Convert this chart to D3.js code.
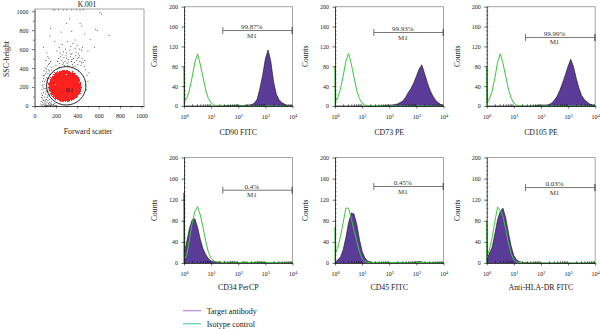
<!DOCTYPE html>
<html>
<head>
<meta charset="utf-8">
<script src="https://cdn.jsdelivr.net/npm/d3@7"></script>
<style>
  body { margin: 0; background: #fff; }
  svg { display: block; font-family: "Liberation Serif", "DejaVu Serif", serif; }
</style>
</head>
<body>
<svg id="fig" width="600" height="329"></svg>
<script>
// log10 fluorescence channel positions shared by all histograms
const channels = [0, 0.03, 0.1, 0.2, 0.3, 0.4, 0.5, 0.6, 0.7, 0.8, 0.9, 1.0, 1.1, 1.2, 1.3, 1.4,
  1.5, 1.6, 1.7, 1.8, 1.9, 2.0, 2.1, 2.2, 2.3, 2.4, 2.5, 2.6, 2.7, 2.8, 2.9, 3.0, 3.1, 3.2, 3.3,
  3.4, 3.5, 3.6, 3.7, 3.8, 3.9, 4.0];

// counts per channel, target antibody (filled) and isotype control (line)
const cd90Target = [0,0, 0,0,0,0,0,0,0,0,0,0,0,0,0,0, 1,1,1,1,1,2,1,1,2,2,3,6,14,36,62,95,113,90,50,24,13,7,4,1,1,0];
const cd90Iso    = [79,10,15,32,58,88,105,84,58,32,15,6,2,1, 0,0,0,0,0,0,0,0,0,0,0,0,0,0,0,0,0,0,0,0,0,0,0,0,0,0,0,0];
const cd73Target = [0,0,0,0,0,0,0,0,0,0,0,0,0,0,0,0,0,0,0, 1,1,2,2,3,4,7,10,17,27,35,46,60,74,83,66,48,32,21,12,7,3,1];
const cd73Iso    = [80,10,16,34,60,90,106,85,58,32,15,6,2,1, 0,0,0,0,0,0,0,0,0,0,0,0,0,0,0,0,0,0,0,0,0,0,0,0,0,0,0,0];
const cd105Target = [0,0,0,0,0,0,0,0,0,0,0,0,0,0,0,0,0,0,0, 1,1,2,2,2,3,6,12,20,32,47,63,80,94,79,56,36,21,13,8,4,2,1];
const cd105Iso    = [80,8,14,30,56,88,105,86,60,34,16,6,2,1, 0,0,0,0,0,0,0,0,0,0,0,0,0,0,0,0,0,0,0,0,0,0,0,0,0,0,0,0];
const cd34Target = [133,22,40,65,82,84,68,45,27,16,8,4,3,2,2, 1,2,1,1,2,1,1,1,2,1,1,1,1,2,1,1,1,1,1,1,1,1,1,1,1,1,0];
const cd34Iso    = [82,8,14,44,75,98,107,91,68,42,20,9,4,2, 2,1,1,1,2,1,1,1,1,2,1,1,1,1,1,2,1,1,1,1,1,1,1,1,1,1,1,1];
const cd45Target = [0,2,6,11,25,48,76,95,93,74,45,22,10,4,2, 1,1,1,1,1,1,1,1,1,1,1,1,1,1,1,1,2,3,2,1,1,1,1,1,1,1,0];
const cd45Iso    = [68,20,28,50,76,104,104,84,62,42,22,8,3,1, 1,1,1,1,1,1,1,1,1,1,1,1,1,1,1,1,1,1,1,1,1,1,1,1,1,1,1,1];
const hlaTarget  = [0,10,18,30,55,82,98,104,86,58,32,14,6,3,1, 1,1,0,0,1,0,0,0,0,0,0,0,0,0,0,0,0,0,0,0,0,0,0,0,0,0,0];
const hlaIso     = [79,14,25,48,78,106,100,88,64,38,18,6,2,1, 1,0,0,0,0,0,0,0,0,0,0,0,0,0,0,0,0,0,0,0,0,0,0,0,0,0,0,0];

const panelTitles = ["CD90 FITC", "CD73 PE", "CD105 PE", "CD34 PerCP", "CD45 FITC", "Anti-HLA-DR FITC"];
const targetCounts = [cd90Target, cd73Target, cd105Target, cd34Target, cd45Target, hlaTarget];
const isotypeCounts = [cd90Iso, cd73Iso, cd105Iso, cd34Iso, cd45Iso, hlaIso];
const gatePercent = ["99.87%", "99.93%", "99.99%", "0.4%", "0.45%", "0.03%"];
const gateLevel = [152, 148, 138, 138, 145, 143];
const gateRange = [27, 9800];
const countTicks = [0, 40, 80, 120, 160, 200];
const decadeTicks = [1, 10, 100, 1000, 10000];

// FSC / SSC dot plot: gate R1 [cx, cy, rx, ry] and the gated population extent
const gateR1 = [297, 213, 184, 203];
const r1Population = [285, 210, 182, 200];
const scatterTicks = [0, 200, 400, 600, 800, 1000];
const ungatedEvents = [
  [176,1015],[192,1012],[223,1016],[269,1013],[301,1016],[348,1014],[395,1015],[426,1012],[457,1016],
  [609,985],[626,971],[572,810],[587,796],[697,743],[426,873],[442,845],[145,740],[83,620],[348,785],
  [301,873],[379,697],[470,760],[520,700],[250,780],[330,920],[190,680],[560,620],[500,580],[150,820],
  [230,620],[260,650],[290,600],[310,680],[340,630],[360,660],[380,610],[400,640],[420,600],[270,570],
  [300,560],[330,590],[350,555],[390,570],[410,550],[440,590],[450,620],[210,580],[240,560],
  [200,430],[215,470],[225,500],[235,450],[245,520],[255,480],[265,440],[275,510],[285,470],[295,530],
  [305,450],[315,490],[325,420],[335,520],[345,470],[355,440],[365,500],[375,460],[385,530],[395,480],
  [405,440],[415,510],[425,470],[435,430],[445,500],[455,460],[465,420],[260,540],[300,505],[340,545],
  [380,420],[420,530],[230,410],[280,425],[320,465],[360,415],[400,505],[440,455],[470,480],[350,490],
  [310,430],[270,455],
  [480,380],[490,320],[500,260],[475,220],[510,350],[485,170],
  [60,20],[70,5],[75,40],[80,15],[85,60],[90,30],[95,10],[100,45],[105,20],[110,70],[115,35],[120,5],
  [125,55],[130,25],[135,12],[140,40],[145,8],[150,30],[155,18],[160,50],[65,90],[75,110],[85,140],
  [95,95],[105,125],[115,160],[125,105],[135,150],[145,120],[70,170],[80,200],[90,230],[100,185],
  [110,215],[120,250],[130,200],[140,230],[150,180],[75,260],[85,290],[95,320],[105,275],[115,300],
  [125,340],[135,290],[145,330],[90,370],[100,400],[110,360],[120,420],[130,380],[140,450],[105,480],
  [125,520],[115,560],[135,500],[150,470],[155,410],[160,380],[88,180],[98,60],[108,150],[118,90],
  [128,180],[138,70],[148,260],[158,120],[68,130],[78,75],[82,320],[92,260],[102,340],[112,390],
  [122,290],[132,440],[142,370],[152,300],[62,50],[72,220],
  [100,3],[112,8],[124,2],[136,6],[148,3],[160,9],[172,4],[184,7],[196,2],[208,5],[165,20],[178,15],[190,25]
];

const legendLabels = ["Target antibody", "Isotype control"];
const legendColors = ["#b18be0", "#5fd3a0"];

const svg = d3.select("#fig");
const frameGray = "#8e8e8e";
const purple = "#5b3b98";
const green = "#3ec43e";

function styleAxis(g, size) {
  g.attr("font-family", null).attr("font-size", size);
  g.selectAll("line").attr("stroke", "#111").attr("stroke-width", 0.6);
  g.select(".domain").attr("stroke", "#111").attr("stroke-width", 0.8);
  g.selectAll("text").attr("fill", "#222");
}

// ---------- dot plot ----------
(function drawScatter() {
  const left = 34.5, right = 144, top = 9, bottom = 106;
  const x = d3.scaleLinear().domain([0, 1024]).range([left, right]);
  const y = d3.scaleLinear().domain([0, 1024]).range([bottom, top]);
  const g = svg.append("g");

  const defs = svg.append("defs");
  const grad = defs.append("radialGradient").attr("id", "r1Fill");
  grad.append("stop").attr("offset", "0%").attr("stop-color", "#ff2020").attr("stop-opacity", 1);
  grad.append("stop").attr("offset", "75%").attr("stop-color", "#ff2020").attr("stop-opacity", 1);
  grad.append("stop").attr("offset", "100%").attr("stop-color", "#ff2020").attr("stop-opacity", 0.15);

  // grainy edge for the dense red event cloud
  const f = defs.append("filter").attr("id", "speckle")
    .attr("x", "-20%").attr("y", "-20%").attr("width", "140%").attr("height", "140%")
    .attr("color-interpolation-filters", "sRGB");
  f.append("feTurbulence").attr("type", "fractalNoise").attr("baseFrequency", 1.1)
    .attr("numOctaves", 2).attr("seed", 4).attr("result", "noise");
  f.append("feColorMatrix").attr("in", "noise").attr("type", "matrix")
    .attr("values", "0 0 0 0 0  0 0 0 0 0  0 0 0 0 0  1 0 0 0 0").attr("result", "na");
  f.append("feComposite").attr("in", "SourceAlpha").attr("in2", "na").attr("operator", "arithmetic")
    .attr("k1", 0).attr("k2", 1).attr("k3", 0.9).attr("k4", -0.65).attr("result", "sum");
  f.append("feComponentTransfer").attr("in", "sum").attr("result", "mask")
    .append("feFuncA").attr("type", "discrete").attr("tableValues", "0 1");
  f.append("feFlood").attr("flood-color", "#ff2020").attr("result", "red");
  f.append("feComposite").attr("in", "red").attr("in2", "mask").attr("operator", "in");

  // frame
  g.append("path")
    .attr("d", `M${left},${top}H${right}V${bottom}`)
    .attr("fill", "none").attr("stroke", frameGray).attr("stroke-width", 0.8);

  g.append("g").selectAll("rect").data(ungatedEvents).join("rect")
    .attr("x", d => x(d[0]) - 0.45).attr("y", d => y(d[1]) - 0.45)
    .attr("width", 0.9).attr("height", 0.9).attr("fill", "#333");

  const [pcx, pcy, prx, pry] = r1Population;
  g.append("ellipse")
    .attr("cx", x(pcx)).attr("cy", y(pcy))
    .attr("rx", x(prx) - x(0)).attr("ry", y(0) - y(pry))
    .attr("fill", "url(#r1Fill)").attr("filter", "url(#speckle)");

  const [gcx, gcy, grx, gry] = gateR1;
  g.append("ellipse")
    .attr("cx", x(gcx)).attr("cy", y(gcy))
    .attr("rx", x(grx) - x(0)).attr("ry", y(0) - y(gry))
    .attr("fill", "none").attr("stroke", "#111").attr("stroke-width", 0.9);
  g.append("text").attr("x", x(327)).attr("y", y(150))
    .attr("text-anchor", "middle").attr("font-size", 7).attr("fill", "#222").text("R1");

  g.append("g").attr("transform", `translate(0,${bottom})`)
    .call(d3.axisBottom(x).tickValues(scatterTicks).tickFormat(d3.format("d"))
      .tickSize(2.5).tickSizeOuter(0).tickPadding(5))
    .call(a => styleAxis(a, 6));
  g.append("g").attr("transform", `translate(0,${bottom})`)
    .call(d3.axisBottom(x).tickValues(d3.range(100, 1001, 200)).tickSize(1.5).tickFormat(""))
    .call(a => a.select(".domain").remove())
    .call(a => styleAxis(a, 6));
  g.append("g").attr("transform", `translate(${left},0)`)
    .call(d3.axisLeft(y).tickValues(scatterTicks).tickFormat(d3.format("d"))
      .tickSize(2.5).tickSizeOuter(0).tickPadding(3.5))
    .call(a => styleAxis(a, 6));
  g.append("g").attr("transform", `translate(${left},0)`)
    .call(d3.axisLeft(y).tickValues(d3.range(100, 1001, 200)).tickSize(1.5).tickFormat(""))
    .call(a => a.select(".domain").remove())
    .call(a => styleAxis(a, 6));

  g.append("text").attr("x", 87).attr("y", 7).attr("text-anchor", "middle")
    .attr("font-size", 7.5).attr("fill", "#222").text("K.001");
  g.append("text").attr("x", 88).attr("y", 134).attr("text-anchor", "middle")
    .attr("font-size", 7.8).attr("fill", "#222").text("Forward scatter");
  g.append("text").attr("transform", "translate(8.5,59) rotate(-90)").attr("text-anchor", "middle")
    .attr("font-size", 7.8).attr("fill", "#222").text("SSC-height");
})();

// ---------- histograms ----------
const colLeft = [184, 335, 486.7];
const panelWidth = 108.5;
const rowTop = [6.7, 157.5];
const rowBottom = [106, 263];
const rowTitleDy = [29, 26.5];

function drawHistogram(i) {
  const col = i % 3, row = Math.floor(i / 3);
  const left = colLeft[col], right = left + panelWidth;
  const top = rowTop[row], bottom = rowBottom[row];
  const x = d3.scaleLog().domain([1, 1e4]).range([left, right]);
  const y = d3.scaleLinear().domain([0, 200]).range([bottom, top]);
  const g = svg.append("g");

  const pts = c => [[1, 0]].concat(channels.map((d, k) => [Math.pow(10, d), c[k]]));
  const area = d3.area().x(d => x(d[0])).y0(bottom).y1(d => y(d[1]));
  const line = d3.line().x(d => x(d[0])).y(d => y(d[1]));

  g.append("path")
    .attr("d", `M${left},${top}H${right}V${bottom}`)
    .attr("fill", "none").attr("stroke", frameGray).attr("stroke-width", 0.8);

  g.append("path").attr("d", area(pts(targetCounts[i]))).attr("fill", purple);
  g.append("path").attr("d", line(pts(targetCounts[i])))
    .attr("fill", "none").attr("stroke", "#111").attr("stroke-width", 0.6);
  g.append("path").attr("d", line(pts(isotypeCounts[i])))
    .attr("fill", "none").attr("stroke", green).attr("stroke-width", 1);

  // M1 marker
  const my = y(gateLevel[i]);
  const x0 = x(gateRange[0]), x1 = x(gateRange[1]);
  const m = g.append("g").attr("stroke", "#555").attr("stroke-width", 0.8);
  m.append("line").attr("x1", x0).attr("x2", x1).attr("y1", my).attr("y2", my);
  m.append("line").attr("x1", x0).attr("x2", x0).attr("y1", my - 3.5).attr("y2", my + 3.5);
  m.append("line").attr("x1", x1).attr("x2", x1).attr("y1", my - 3.5).attr("y2", my + 3.5)
    .attr("stroke-width", 1.3);
  const mx = x(Math.pow(10, 2.5));
  g.append("text").attr("x", mx).attr("y", my - 1.3).attr("text-anchor", "middle")
    .attr("font-size", 7).attr("fill", "#333").text(gatePercent[i]);
  g.append("text").attr("x", mx).attr("y", my + 7).attr("text-anchor", "middle")
    .attr("font-size", 7).attr("fill", "#333").text("M1");

  // axes
  g.append("g").attr("transform", `translate(${left},0)`)
    .call(d3.axisLeft(y).tickValues(countTicks).tickSize(2.5).tickSizeOuter(0).tickPadding(3.5))
    .call(a => styleAxis(a, 6));
  g.append("g").attr("transform", `translate(${left},0)`)
    .call(d3.axisLeft(y).tickValues(d3.range(0, 201, 8)).tickSize(-1.5).tickFormat(""))
    .call(a => a.select(".domain").remove())
    .call(a => styleAxis(a, 6));

  g.append("g").attr("transform", `translate(0,${bottom})`)
    .call(d3.axisBottom(x).tickValues(decadeTicks).tickSize(2.5).tickSizeOuter(0).tickPadding(6.5))
    .call(a => styleAxis(a, 6))
    .call(a => a.selectAll(".tick text").each(function (d) {
      const t = d3.select(this).text(null);
      t.append("tspan").text("10");
      t.append("tspan").attr("dy", -2.6).attr("font-size", 4.5).text(Math.round(Math.log10(d)));
    }));
  g.append("g").attr("transform", `translate(0,${bottom})`)
    .call(d3.axisBottom(x).tickValues(x.ticks().filter(v => !decadeTicks.includes(v))).tickSize(-1.8).tickFormat(""))
    .call(a => a.select(".domain").remove())
    .call(a => styleAxis(a, 6));

  g.append("text").attr("transform", `translate(${left - 27},${(top + bottom) / 2}) rotate(-90)`)
    .attr("text-anchor", "middle").attr("font-size", 7.6).attr("fill", "#222").text("Counts");
  g.append("text").attr("x", (left + right) / 2).attr("y", bottom + rowTitleDy[row])
    .attr("text-anchor", "middle").attr("font-size", 7.8).attr("fill", "#222").text(panelTitles[i]);
}

panelTitles.forEach((_, i) => drawHistogram(i));

// ---------- legend ----------
const legend = svg.append("g").attr("transform", "translate(183,310.7)");
legendLabels.forEach((label, i) => {
  const row = legend.append("g").attr("transform", `translate(0,${i * 13})`);
  row.append("line").attr("x1", 0).attr("x2", 18).attr("stroke", legendColors[i]).attr("stroke-width", 1.2);
  row.append("text").attr("x", 23.7).attr("y", 2.8).attr("font-size", 8).attr("fill", "#222").text(label);
});
</script>
</body>
</html>
